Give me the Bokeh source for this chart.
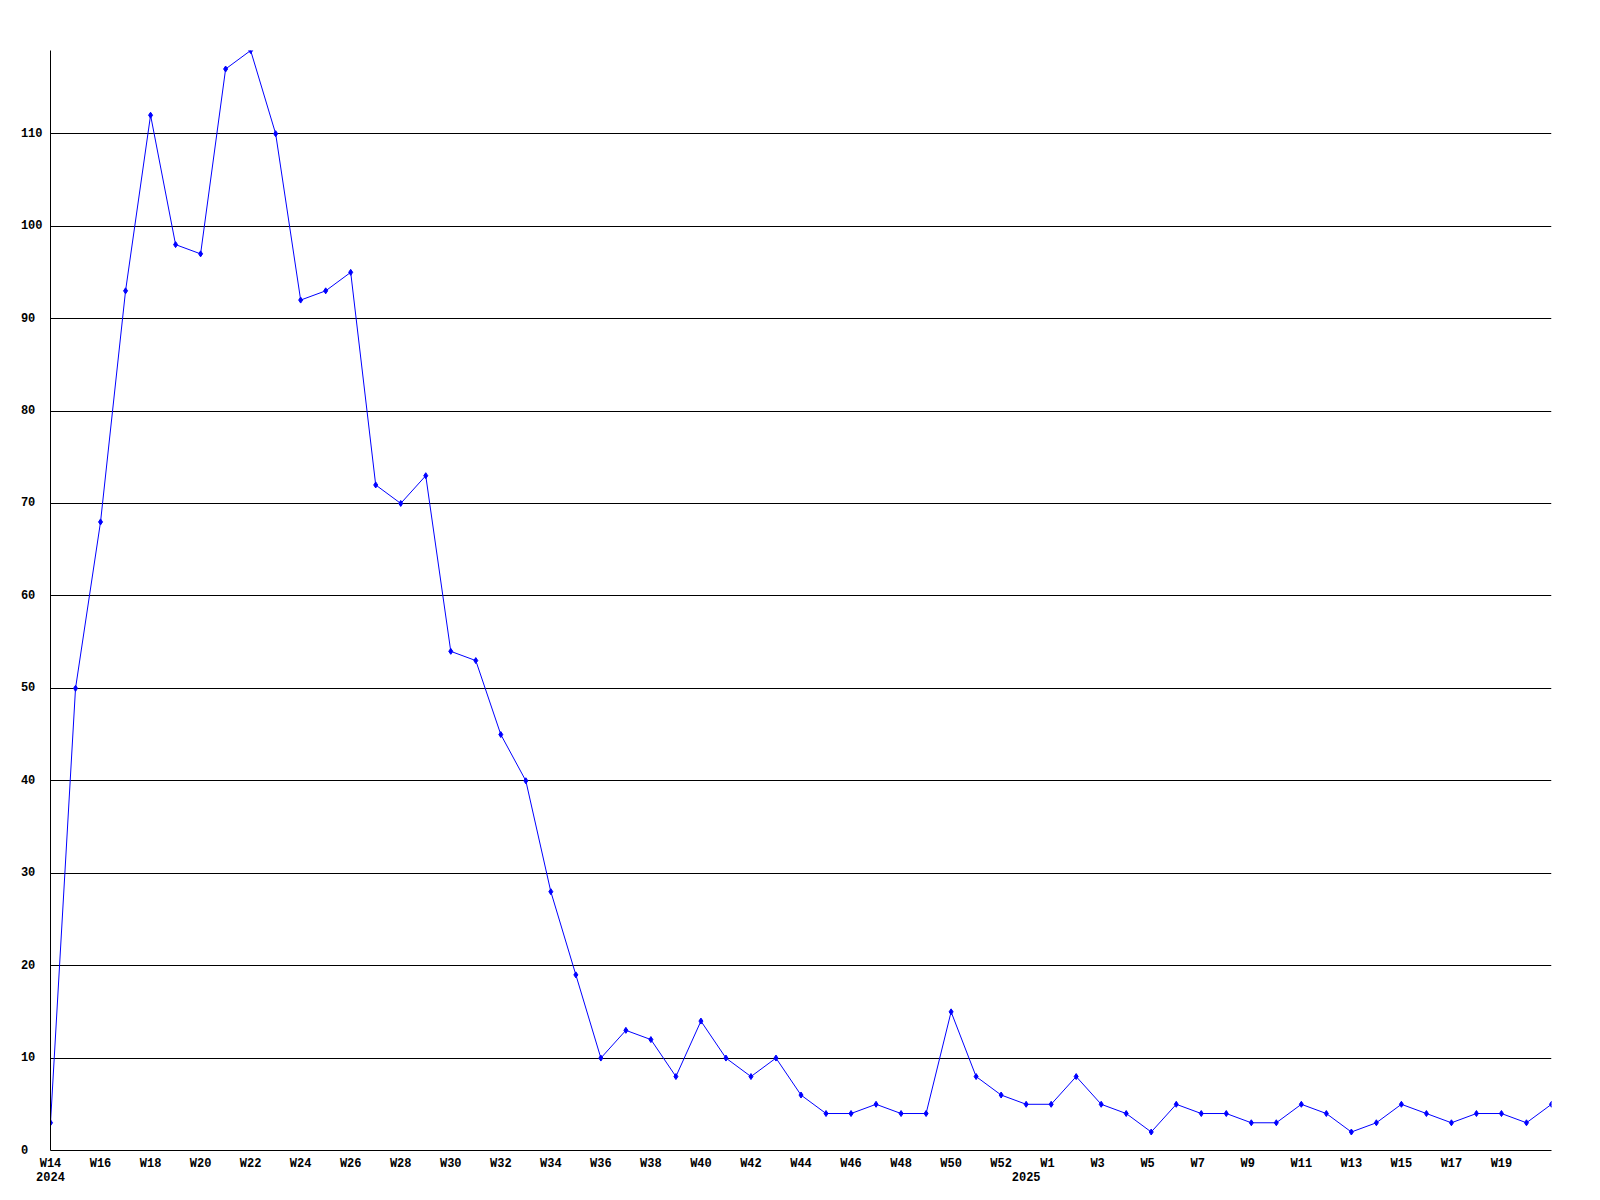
from bokeh.plotting import figure
from bokeh.models import Range1d, FixedTicker, LinearAxis
from bokeh.embed import file_html
from bokeh.resources import INLINE

# ---- data ----
weeks = (["W%d" % w for w in range(14, 53)] + ["W0"] + ["W%d" % w for w in range(1, 22)])
counts = [3, 50, 68, 93, 112, 98, 97, 117, 119, 110,
          92, 93, 95, 72, 70, 73, 54, 53, 45, 40,
          28, 19, 10, 13, 12, 8, 14, 10, 8, 10,
          6, 4, 4, 5, 4, 4, 15, 8, 6, 5,
          5, 8, 5, 4, 2, 5, 4, 4, 3, 3,
          5, 4, 2, 3, 5, 4, 3, 4, 4, 3, 5]
year_labels = ["2024", "2025"]
year_starts = [0, 39]
y_ticks = [0, 10, 20, 30, 40, 50, 60, 70, 80, 90, 100, 110]

x = list(range(len(counts)))
label_idx = [i for i in range(0, len(counts) - 1, 2)]

FONT = "Liberation Mono"
NBSP = "\u00a0"  # pads monospace labels so they read left-aligned

p = figure(frame_width=1501, frame_height=1100, output_backend="svg", toolbar_location=None,
           x_range=Range1d(0, len(counts) - 1), y_range=Range1d(0, max(counts)),
           min_border_left=50, min_border_right=41, min_border_top=50, min_border_bottom=10)
p.outline_line_color = None
p.background_fill_color = "white"
p.border_fill_color = "white"

p.line(x, counts, line_color="#0000ff", line_width=1)
p.scatter(x, counts, marker="diamond", size=6, color="#0000ff")

# y axis
ya = p.yaxis[0]
ya.ticker = FixedTicker(ticks=y_ticks)
ya.major_label_overrides = {t: str(t).ljust(3, NBSP) for t in y_ticks}
ya.axis_line_color = "black"
ya.major_tick_line_color = None
ya.minor_tick_line_color = None
ya.major_label_text_font = FONT
ya.major_label_text_font_style = "bold"
ya.major_label_text_font_size = "12px"
ya.major_label_text_color = "black"
ya.major_label_standoff = 2

p.ygrid.ticker = FixedTicker(ticks=y_ticks[1:])
p.ygrid.grid_line_color = "black"
p.xgrid.grid_line_color = None

# x axis (weeks)
xa = p.xaxis[0]
xa.ticker = FixedTicker(ticks=label_idx)
xa.major_label_overrides = {i: weeks[i].ljust(3, NBSP) for i in label_idx}
xa.axis_line_color = "black"
xa.major_tick_line_color = None
xa.minor_tick_line_color = None
xa.major_label_text_font = FONT
xa.major_label_text_font_style = "bold"
xa.major_label_text_font_size = "12px"
xa.major_label_text_color = "black"
xa.major_label_standoff = 0

# year axis
yr = LinearAxis(ticker=FixedTicker(ticks=year_starts),
                major_label_overrides={s: l for s, l in zip(year_starts, year_labels)})
yr.axis_line_color = None
yr.major_tick_line_color = None
yr.minor_tick_line_color = None
yr.major_label_text_font = FONT
yr.major_label_text_font_style = "bold"
yr.major_label_text_font_size = "12px"
yr.major_label_text_color = "black"
yr.major_label_standoff = -8
p.add_layout(yr, "below")

open("out.html", "w").write(file_html(p, INLINE))
